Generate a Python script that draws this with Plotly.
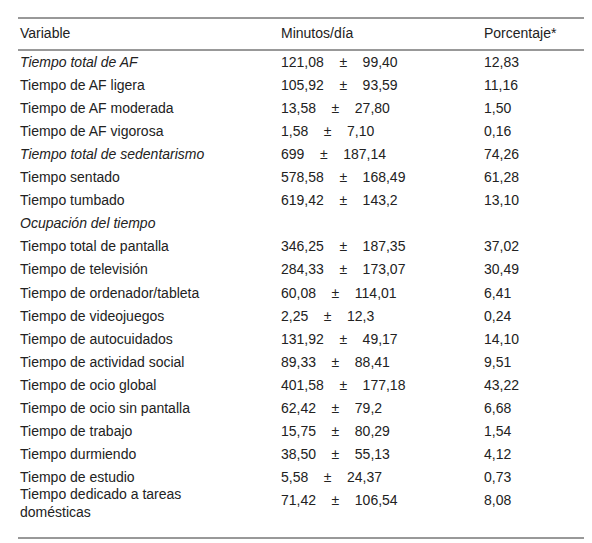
import plotly.graph_objects as go

variables = [
    "Tiempo total de AF", "Tiempo de AF ligera", "Tiempo de AF moderada",
    "Tiempo de AF vigorosa", "Tiempo total de sedentarismo", "Tiempo sentado",
    "Tiempo tumbado", "Ocupación del tiempo", "Tiempo total de pantalla",
    "Tiempo de televisión", "Tiempo de ordenador/tableta", "Tiempo de videojuegos",
    "Tiempo de autocuidados", "Tiempo de actividad social", "Tiempo de ocio global",
    "Tiempo de ocio sin pantalla", "Tiempo de trabajo", "Tiempo durmiendo",
    "Tiempo de estudio", "Tiempo dedicado a tareas<br>domésticas",
]
italic_rows = [0, 4, 7]
media = ["121,08", "105,92", "13,58", "1,58", "699", "578,58", "619,42", "",
         "346,25", "284,33", "60,08", "2,25", "131,92", "89,33", "401,58",
         "62,42", "15,75", "38,50", "5,58", "71,42"]
de = ["99,40", "93,59", "27,80", "7,10", "187,14", "168,49", "143,2", "",
      "187,35", "173,07", "114,01", "12,3", "49,17", "88,41", "177,18",
      "79,2", "80,29", "55,13", "24,37", "106,54"]
porcentaje = ["12,83", "11,16", "1,50", "0,16", "74,26", "61,28", "13,10", "",
              "37,02", "30,49", "6,41", "0,24", "14,10", "9,51", "43,22",
              "6,68", "1,54", "4,12", "0,73", "8,08"]
headers = ["Variable", "Minutos/día", "Porcentaje*"]

sp = "\u00a0" * 4
rows = [55 + i * 23.1 for i in range(len(variables))]
ys = list(rows)
ys[-1] += 3  # two-line row
var_txt = [f"<i>{v}</i>" if i in italic_rows else v for i, v in enumerate(variables)]
min_txt = [f"{m}{sp}±{sp}{d}" if m else "" for m, d in zip(media, de)]

font = dict(family="Liberation Sans, Arial", size=14, color="#222")
fig = go.Figure()
fig.add_trace(go.Scatter(x=[12, 273, 476], y=[26] * 3, text=headers, mode="text",
                         textposition="middle right", textfont=font))
fig.add_trace(go.Scatter(x=[12] * len(ys), y=ys, text=var_txt, mode="text",
                         textposition="middle right", textfont=font))
fig.add_trace(go.Scatter(x=[273] * len(rows), y=rows, text=min_txt, mode="text",
                         textposition="middle right", textfont=font))
fig.add_trace(go.Scatter(x=[476] * len(rows), y=rows, text=porcentaje, mode="text",
                         textposition="middle right", textfont=font))

for y in [10, 42, 530]:
    fig.add_shape(type="line", x0=10, x1=582, y0=y, y1=y, line=dict(color="#333", width=1))

fig.update_layout(
    width=592, height=543, margin=dict(l=0, r=0, t=0, b=0),
    plot_bgcolor="white", paper_bgcolor="white", showlegend=False,
    xaxis=dict(range=[0, 592], visible=False, fixedrange=True),
    yaxis=dict(range=[543, 0], visible=False, fixedrange=True),
)
fig.write_html("out.html")
